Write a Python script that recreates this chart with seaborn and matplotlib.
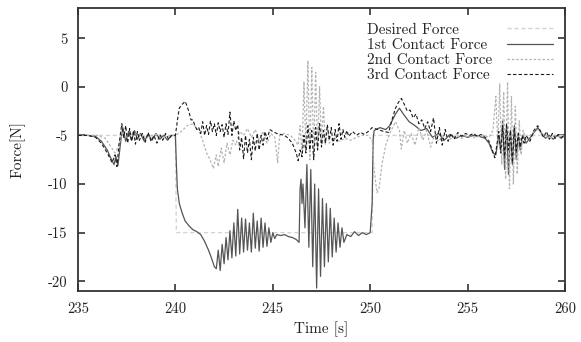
import pandas as pd
import seaborn as sns
import matplotlib.pyplot as plt

# Desired force (step to -15 N while the grasp is commanded)
t_des = [235.0, 240.0, 240.05, 250.1, 250.15, 260.0]
f_des = [-5.0, -5.0, -15.0, -15.0, -5.0, -5.0]

# 1st contact force
t_c1 = [235.0, 235.5, 235.9, 236.2, 236.5, 236.7, 236.85, 236.95, 237.05, 237.2,
        237.3, 237.45, 237.6, 237.75, 237.9, 238.05, 238.2, 238.4, 238.6, 238.8,
        239.0, 239.2, 239.4, 239.6, 239.8, 240.0,
        240.05, 240.1, 240.2, 240.35, 240.5, 240.7, 240.9, 241.1, 241.3, 241.5,
        241.7, 241.85, 242.0, 242.1,
        242.2, 242.3, 242.4, 242.5, 242.6, 242.7, 242.8, 242.9, 243.0, 243.1,
        243.2, 243.3, 243.4, 243.5, 243.6, 243.7, 243.8, 243.9, 244.0, 244.1,
        244.2, 244.3, 244.4, 244.5, 244.6, 244.7, 244.8, 244.9, 245.0, 245.1,
        245.2, 245.4, 245.6, 245.8, 246.0, 246.2, 246.35,
        246.4, 246.45, 246.5, 246.55, 246.65, 246.75, 246.85, 246.95, 247.05, 247.15,
        247.25, 247.35, 247.45, 247.55, 247.65, 247.75, 247.85, 247.95, 248.05, 248.15,
        248.25, 248.35, 248.45, 248.55, 248.65, 248.8, 249.0, 249.2, 249.4, 249.6,
        249.8, 250.0, 250.1, 250.15,
        250.2, 250.5, 250.8, 251.0, 251.3, 251.5, 251.7, 252.0, 252.3, 252.6,
        252.9, 253.2, 253.5, 253.8, 254.1, 254.4, 254.7, 255.0, 255.3, 255.6,
        255.9, 256.1, 256.3, 256.45, 256.6, 256.7, 256.8, 256.9, 257.0, 257.1,
        257.2, 257.3, 257.4, 257.5, 257.6, 257.7, 257.85, 258.0, 258.3, 258.6,
        258.8, 259.0, 259.2, 259.4, 259.6, 259.8, 260.0]
f_c1 = [-5.0, -5.0, -5.1, -5.6, -6.5, -7.4, -8.0, -7.2, -8.1, -5.5,
        -4.2, -5.6, -4.6, -5.5, -4.5, -5.4, -4.8, -5.6, -4.9, -5.5,
        -4.8, -5.4, -5.0, -5.5, -5.0, -5.0,
        -8.0, -10.5, -12.0, -13.0, -13.8, -14.3, -14.7, -14.9, -15.2, -15.9,
        -16.8, -17.6, -18.5, -18.7,
        -16.8, -18.9, -16.2, -18.2, -15.5, -17.8, -14.8, -17.6, -14.0, -17.4,
        -12.6, -17.2, -13.5, -17.0, -13.6, -16.8, -14.0, -17.0, -13.0, -16.6,
        -13.8, -16.9, -13.5, -16.5, -14.0, -16.4, -14.5, -16.0, -15.0, -15.6,
        -15.2, -15.3, -15.2, -15.4, -15.5, -15.7, -16.0,
        -10.5, -9.5, -12.0, -10.0, -14.5, -8.0, -16.5, -8.5, -18.5, -10.0,
        -20.7, -10.5, -19.5, -11.5, -18.5, -12.0, -18.0, -12.5, -17.5, -13.5,
        -17.0, -14.0, -16.5, -14.5, -16.0, -15.2, -15.4, -14.9, -15.3, -15.0,
        -15.2, -15.0, -12.0, -5.5,
        -4.5, -4.2, -4.4, -4.0, -2.8, -2.2, -2.8, -3.6, -4.0, -4.5,
        -4.3, -5.2, -4.8, -5.5, -4.9, -5.3, -5.0, -5.2, -5.0, -5.1,
        -5.3, -5.8, -6.8, -7.0, -5.0, -6.5, -3.5, -8.5, -4.0, -9.0,
        -4.5, -8.0, -4.0, -7.5, -5.0, -6.5, -5.0, -5.8, -5.0, -4.2,
        -4.8, -5.3, -5.0, -5.4, -5.0, -5.3, -5.0]

# 2nd contact force
t_c2 = [235.0, 236.0, 236.4, 236.7, 236.9, 237.1, 237.3, 237.5, 238.0, 238.5,
        239.0, 239.5, 240.0, 240.3, 240.6, 240.9, 241.2, 241.4, 241.6, 241.8,
        241.95, 242.1, 242.2, 242.35, 242.5, 242.65, 242.8, 242.95, 243.1, 243.3,
        243.5, 243.7, 243.9, 244.1, 244.3, 244.5, 244.7, 244.9, 245.1, 245.25,
        245.35, 245.6, 245.9, 246.1, 246.3, 246.4, 246.5, 246.6, 246.7, 246.8,
        246.9, 247.0, 247.1, 247.2, 247.3, 247.4, 247.5, 247.6, 247.7, 247.8,
        247.9, 248.1, 248.4, 248.7, 249.0, 249.3, 249.6, 249.9, 250.1, 250.2,
        250.35, 250.45, 250.6, 250.8, 251.0, 251.3, 251.5, 251.6, 251.75, 251.9,
        252.1, 252.3, 252.5, 252.7, 252.9, 253.1, 253.3, 253.5, 253.8, 254.1,
        254.4, 254.7, 255.0, 255.4, 255.8, 256.1, 256.3, 256.45, 256.55, 256.65,
        256.75, 256.85, 256.95, 257.05, 257.15, 257.25, 257.35, 257.45, 257.55, 257.65,
        257.75, 257.85, 258.0, 258.3, 258.6, 258.9, 259.2, 259.5, 259.8, 260.0]
f_c2 = [-5.0, -5.0, -5.3, -6.2, -6.8, -6.0, -4.5, -5.0, -4.8, -5.2,
        -4.9, -5.1, -5.0, -4.6, -4.0, -3.8, -4.5, -5.5, -6.8, -7.6,
        -8.4, -7.0, -8.2, -6.3, -7.8, -5.8, -7.0, -5.5, -6.0, -4.6,
        -5.0, -4.3, -5.2, -4.4, -5.5, -4.6, -5.8, -4.8, -5.2, -7.8,
        -5.0, -4.8, -5.0, -5.4, -6.0, -4.0, -7.0, 0.5, -6.5, 2.7,
        -7.5, 2.0, -7.0, 1.5, -6.5, 0.0, -6.0, -2.0, -6.0, -4.0,
        -5.8, -5.2, -5.6, -5.3, -5.5, -5.2, -5.0, -5.0, -5.5, -8.5,
        -10.9, -10.5, -8.0, -6.0, -4.8, -3.6, -4.5, -6.4, -4.5, -5.8,
        -4.8, -6.0, -4.2, -5.5, -4.5, -6.2, -5.0, -5.6, -5.0, -5.4,
        -5.0, -5.3, -5.0, -5.2, -5.0, -5.2, -4.5, -1.0, -6.0, 0.3,
        -8.0, -0.5, -9.5, 0.5, -10.5, -1.0, -10.0, -2.0, -9.0, -3.5,
        -7.0, -4.5, -5.5, -4.8, -4.4, -5.0, -5.3, -5.0, -5.2, -5.0]

# 3rd contact force
t_c3 = [235.0, 235.5, 235.9, 236.2, 236.5, 236.75, 236.9, 237.0, 237.1, 237.25,
        237.35, 237.45, 237.55, 237.65, 237.75, 237.85, 237.95, 238.05, 238.15, 238.3,
        238.45, 238.6, 238.75, 238.9, 239.05, 239.2, 239.35, 239.5, 239.65, 239.8,
        240.0, 240.1, 240.2, 240.35, 240.5, 240.6, 240.7, 240.8, 240.9, 241.0,
        241.1, 241.2, 241.3, 241.4, 241.5, 241.6, 241.7, 241.8, 241.9, 242.0,
        242.1, 242.2, 242.3, 242.4, 242.5, 242.6, 242.7, 242.8, 242.9, 243.0,
        243.1, 243.2, 243.3, 243.4, 243.5, 243.6, 243.7, 243.8, 243.9, 244.0,
        244.1, 244.2, 244.3, 244.4, 244.5, 244.6, 244.7, 244.85, 245.0, 245.2,
        245.4, 245.6, 245.8, 246.0, 246.2, 246.3, 246.4, 246.5, 246.6, 246.7,
        246.8, 246.9, 247.0, 247.1, 247.2, 247.3, 247.4, 247.5, 247.6, 247.7,
        247.8, 247.9, 248.0, 248.1, 248.2, 248.3, 248.4, 248.5, 248.6, 248.7,
        248.8, 248.9, 249.1, 249.3, 249.5, 249.7, 249.9, 250.1, 250.4, 250.7,
        250.95, 251.1, 251.3, 251.45, 251.6, 251.75, 251.9, 252.05, 252.2, 252.35,
        252.5, 252.65, 252.8, 252.95, 253.1, 253.25, 253.4, 253.55, 253.7, 253.85,
        254.0, 254.15, 254.3, 254.5, 254.7, 254.9, 255.1, 255.3, 255.5, 255.7,
        255.9, 256.1, 256.25, 256.4, 256.5, 256.6, 256.7, 256.8, 256.9, 257.0,
        257.1, 257.2, 257.3, 257.4, 257.5, 257.6, 257.7, 257.8, 257.9, 258.0,
        258.2, 258.4, 258.6, 258.75, 258.9, 259.05, 259.2, 259.35, 259.5, 259.65,
        259.8, 260.0]
f_c3 = [-5.0, -5.0, -5.2, -5.8, -6.8, -7.8, -7.0, -8.2, -6.0, -3.8,
        -5.2, -4.0, -5.8, -4.3, -5.6, -4.5, -5.9, -4.6, -5.5, -4.8,
        -5.7, -4.7, -5.6, -5.0, -5.8, -4.9, -5.5, -4.8, -5.4, -5.0,
        -5.0, -3.5, -2.2, -1.8, -1.5, -2.0, -2.6, -3.4, -3.4, -4.0,
        -4.4, -4.2, -4.8, -3.6, -5.0, -4.0, -4.9, -3.5, -4.6, -3.8,
        -5.0, -3.7, -4.6, -3.9, -5.2, -3.8, -4.9, -2.6, -5.0, -3.5,
        -4.5, -3.9, -6.5, -5.2, -7.4, -5.0, -6.8, -5.4, -7.5, -5.2,
        -6.6, -4.8, -6.5, -5.0, -6.0, -4.6, -5.4, -4.4, -4.6, -4.8,
        -4.9, -5.0, -5.3, -5.8, -6.8, -7.6, -6.5, -7.2, -5.0, -6.8,
        -4.0, -6.5, -4.5, -7.5, -4.2, -6.5, -3.8, -6.2, -4.5, -5.8,
        -3.9, -5.5, -4.2, -6.0, -4.4, -5.6, -3.8, -5.4, -4.4, -5.2,
        -4.5, -5.1, -4.6, -5.0, -4.7, -4.9, -4.6, -4.2, -4.4, -4.6,
        -4.7, -3.5, -2.2, -1.6, -1.2, -1.8, -2.5, -2.4, -3.2, -2.8,
        -3.8, -3.4, -4.3, -3.6, -4.6, -3.2, -5.8, -4.2, -6.0, -4.4,
        -5.6, -4.8, -5.4, -4.7, -5.1, -4.8, -5.0, -4.8, -5.1, -4.9,
        -5.2, -5.6, -6.4, -7.3, -6.0, -4.6, -6.8, -4.0, -7.2, -3.8,
        -6.5, -4.5, -7.8, -4.2, -6.6, -4.8, -6.2, -5.0, -5.8, -5.0,
        -5.6, -4.5, -4.0, -4.6, -5.2, -4.6, -5.4, -4.8, -5.3, -4.9,
        -5.2, -5.0]

series = [
    ("Desired Force", t_des, f_des, "#d4d4d4", (3, 2), 1.0),
    ("1st Contact Force", t_c1, f_c1, "#555555", "", 0.9),
    ("2nd Contact Force", t_c2, f_c2, "#b4b4b4", (2, 1.5), 0.9),
    ("3rd Contact Force", t_c3, f_c3, "#1a1a1a", (3, 2), 0.8),
]

sns.set_style("ticks")
plt.rcParams["font.family"] = ["cmr10", "DejaVu Serif"]
plt.rcParams["axes.unicode_minus"] = False
plt.rcParams["axes.formatter.use_mathtext"] = False

fig = plt.figure(figsize=(5.81, 3.42), dpi=100)
ax = fig.add_axes([78 / 581, 1 - 291 / 342, 487 / 581, 283 / 342])

for name, t, f, col, dash, lw in series:
    df = pd.DataFrame({"Time": t, "Force": f})
    sns.lineplot(data=df, x="Time", y="Force", ax=ax, color=col,
                 linewidth=lw, label=name, estimator=None, sort=False)
    if dash:
        ax.lines[-1].set_dashes(dash)

ax.set_xlim(235, 260)
ax.set_ylim(-21, 8.1)
ax.set_xticks([235, 240, 245, 250, 255, 260])
ax.set_yticks([-20, -15, -10, -5, 0, 5])
ax.set_xlabel("Time [s]", fontsize=11, color="#222222", labelpad=4)
ax.set_ylabel("Force[N]", fontsize=11, color="#222222", labelpad=16)
ax.tick_params(direction="in", top=True, right=True, length=5, width=1.1,
               labelsize=10.5, colors="#222222")
ax.tick_params(axis="x", pad=8)
ax.tick_params(axis="y", pad=7.5)
for sp in ax.spines.values():
    sp.set_linewidth(1.3)
    sp.set_color("#333333")

leg = ax.legend(loc="upper right", bbox_to_anchor=(0.975, 0.947), frameon=False,
                markerfirst=False, fontsize=11, handlelength=3.0,
                labelspacing=0.1, borderpad=0, borderaxespad=0, handletextpad=1)
# left-align the labels and keep the samples in one column, gnuplot style
try:
    col_box = leg._legend_handle_box.get_children()[0]
    col_box.align = "left"
    col_box.width = 186
    for row in col_box.get_children():
        row.mode = "expand"
except Exception as ex:
    print(f"legend layout kept default: {ex}")

fig.savefig("out.png", dpi=100)
